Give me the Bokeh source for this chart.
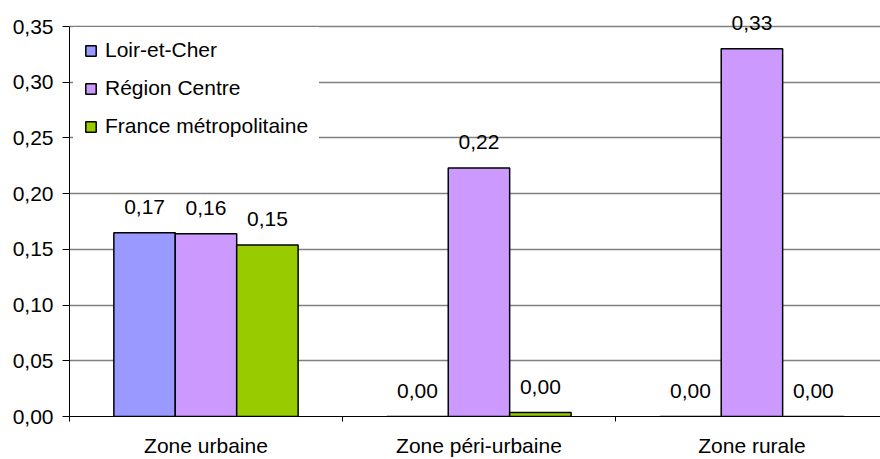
from bokeh.plotting import figure
from bokeh.models import Range1d, FixedTicker, ColumnDataSource, Legend, LegendItem, LabelSet
from bokeh.core.properties import value
from bokeh.embed import file_html
from bokeh.resources import INLINE

categories = ["Zone urbaine", "Zone péri-urbaine", "Zone rurale"]
series = ["Loir-et-Cher", "Région Centre", "France métropolitaine"]
loir_et_cher = [0.165, 0.0, 0.0]
region_centre = [0.164, 0.223, 0.330]
france_metro = [0.154, 0.0035, 0.0]
colors = ["#9999FF", "#CC99FF", "#99CC00"]
y_ticks = [0.0, 0.05, 0.10, 0.15, 0.20, 0.25, 0.30, 0.35]

FONT = "Liberation Sans"
FS = "21px"

centers = [i + 0.5 for i in range(len(categories))]
offsets = [-0.225, 0.0, 0.225]
bar_w = 0.225

# frame spans the full height above the axis so the top value label is not clipped;
# the axis itself is bounded to 0..0.35 (0.35 sits 26px below the top)
y_top = 0.35 * 416.0 / 390.0

p = figure(width=880, height=459, output_backend="svg", toolbar_location=None,
           x_range=Range1d(0, 2.971), y_range=Range1d(0, y_top),
           min_border_left=69, min_border_right=0, min_border_top=0, min_border_bottom=43)
p.outline_line_color = None
p.background_fill_color = "white"
p.border_fill_color = "white"

renderers = []
for vals, off, col in zip([loir_et_cher, region_centre, france_metro], offsets, colors):
    xs = [c + off for c in centers]
    src = ColumnDataSource(dict(x=xs, top=vals,
                                lbl=[("%.2f" % v).replace(".", ",") for v in vals]))
    r = p.vbar(x="x", top="top", width=bar_w, bottom=0, source=src,
               fill_color=col, line_color="black", line_width=1.5)
    renderers.append(r)
    labels = LabelSet(x="x", y="top", text="lbl", source=src, text_align="center",
                      text_baseline="alphabetic", y_offset=19,
                      text_font=value(FONT), text_font_size=value(FS), text_color="black")
    p.add_layout(labels)

# legend box: bottom-left corner given from the frame's bottom-left
legend = Legend(items=[LegendItem(label=s, renderers=[r]) for s, r in zip(series, renderers)],
                location=(4, 267))
legend.margin = 0
legend.padding = 10
legend.spacing = 14
legend.glyph_width = 13
legend.glyph_height = 13
legend.label_standoff = 8
legend.label_text_font = FONT
legend.label_text_font_size = FS
legend.label_text_color = "black"
legend.border_line_color = "white"
legend.border_line_alpha = 1.0
legend.background_fill_color = "white"
legend.background_fill_alpha = 1.0
p.add_layout(legend)

# y axis
p.yaxis.ticker = FixedTicker(ticks=y_ticks)
p.yaxis.bounds = (0, 0.35)
p.yaxis.major_label_overrides = {t: ("%.2f" % t).replace(".", ",") for t in y_ticks}
p.yaxis.major_tick_out = 7
p.yaxis.major_tick_in = 0
p.yaxis.minor_tick_out = 0
p.yaxis.minor_tick_in = 0
p.yaxis.major_label_standoff = 9
p.yaxis.axis_line_color = "black"
p.yaxis.major_tick_line_color = "black"
p.yaxis.major_label_text_font = FONT
p.yaxis.major_label_text_font_size = FS
p.yaxis.major_label_text_color = "black"

# x axis
p.xaxis.ticker = FixedTicker(ticks=centers, minor_ticks=[0, 1, 2, 3])
p.xaxis.major_label_overrides = {c: name for c, name in zip(centers, categories)}
p.xaxis.major_tick_out = 0
p.xaxis.major_tick_in = 0
p.xaxis.minor_tick_out = 5
p.xaxis.minor_tick_in = 0
p.xaxis.minor_tick_line_color = "black"
p.xaxis.major_label_standoff = 12
p.xaxis.axis_line_color = "black"
p.xaxis.major_label_text_font = FONT
p.xaxis.major_label_text_font_size = FS
p.xaxis.major_label_text_color = "black"

p.xgrid.grid_line_color = None
p.ygrid.grid_line_color = "#808080"
p.ygrid.grid_line_width = 1.5

open("out.html", "w").write(file_html(p, INLINE))
